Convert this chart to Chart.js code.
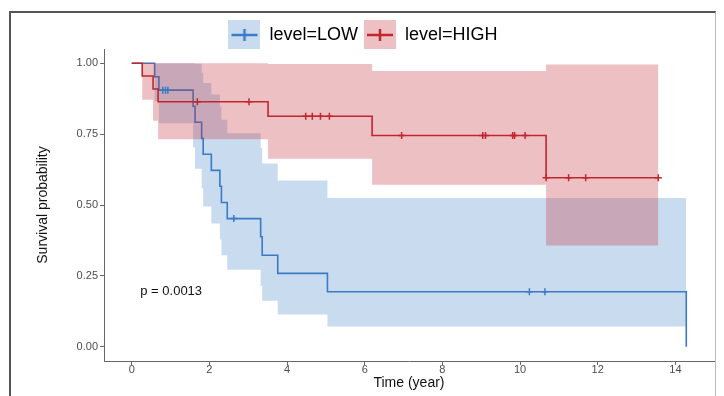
<!DOCTYPE html>
<html>
<head>
<meta charset="utf-8">
<script src="https://cdn.jsdelivr.net/npm/chart.js@4.4.1/dist/chart.umd.min.js"></script>
<style>
  html, body { margin: 0; padding: 0; background: #fff; }
  #wrap { position: relative; width: 724px; height: 396px; overflow: hidden; }
  #frame { position: absolute; left: 9px; top: 11px; width: 704px; height: 400px;
           border-left: 2px solid #555; border-top: 2px solid #555; border-right: 1px solid #bbb; }
  canvas { position: absolute; left: 0; top: 0; }
</style>
</head>
<body>
<div id="wrap"><div id="frame"></div><canvas id="km" width="724" height="396"></canvas></div>
<script>
// axis ticks
const xTicks = [0, 2, 4, 6, 8, 10, 12, 14];
const yTicks = [0, 0.25, 0.5, 0.75, 1];

// level=LOW : step times, survival and confidence band
const lowTime  = [0, 0.59, 0.70, 1.58, 1.63, 1.80, 1.84, 2.05, 2.27, 2.31, 2.46, 3.32, 3.36, 3.76, 5.04, 14.28];
const lowSurv  = [1, 0.952, 0.905, 0.848, 0.792, 0.735, 0.679, 0.622, 0.566, 0.509, 0.452, 0.388, 0.323, 0.259, 0.194, 0];
const lowUpper = [1, 1, 1, 1, 0.998, 0.966, 0.930, 0.890, 0.847, 0.801, 0.753, 0.701, 0.646, 0.586, 0.525, 0.525];
const lowLower = [1, 0.866, 0.788, 0.703, 0.628, 0.559, 0.495, 0.435, 0.378, 0.323, 0.272, 0.214, 0.162, 0.114, 0.072, 0.072];
const lowCensorTime = [0.80, 0.87, 0.93, 2.63, 10.24, 10.64];
const lowCensorSurv = [0.905, 0.905, 0.905, 0.452, 0.194, 0.194];

// level=HIGH
const highTime  = [0, 0.27, 0.55, 0.68, 3.51, 6.19, 10.67, 13.56];
const highSurv  = [1, 0.955, 0.909, 0.864, 0.813, 0.745, 0.596, 0.596];
const highUpper = [1, 1, 1, 1, 0.997, 0.972, 0.995, 0.995];
const highLower = [1, 0.871, 0.797, 0.732, 0.663, 0.571, 0.357, 0.357];
const highCensorTime = [1.69, 3.02, 4.48, 4.65, 4.86, 5.09, 6.95, 9.04, 9.11, 9.81, 9.86, 10.13, 10.67, 11.25, 11.69, 13.56];
const highCensorSurv = [0.864, 0.864, 0.813, 0.813, 0.813, 0.813, 0.745, 0.745, 0.745, 0.745, 0.745, 0.745, 0.596, 0.596, 0.596, 0.596];

const pValue = 'p = 0.0013';
const pvalX = 0.22;
const pvalY = 0.195;

const xMin = -0.714, xMax = 14.994;
const yMin = -0.05, yMax = 1.05;

const family = '"Liberation Sans", Arial, sans-serif';
const blueLine = '#3a7bc6';
const blueFill = 'rgba(70,130,195,0.29)';
const redLine = '#c1262c';
const redFill = 'rgba(195,45,60,0.3)';

Chart.defaults.font.family = family;

function pts(xs, ys) {
  return xs.map((x, i) => ({ x, y: ys[i] }));
}

function legendIcon(fill, stroke) {
  const c = document.createElement('canvas');
  c.width = 32;
  c.height = 32;
  const g = c.getContext('2d');
  g.fillStyle = fill;
  g.fillRect(0, 0, 32, 32);
  g.strokeStyle = stroke;
  g.lineWidth = 2.5;
  g.beginPath();
  g.moveTo(3, 16); g.lineTo(29, 16);
  g.moveTo(16, 10); g.lineTo(16, 22);
  g.stroke();
  return c;
}

function band(data, fill, color, order) {
  return { label: '', data, stepped: 'before', borderWidth: 0, pointRadius: 0,
           fill, backgroundColor: color, order };
}

function stepLine(label, data, color, order) {
  return { label, data, stepped: 'before', borderColor: color, borderWidth: 1.6,
           pointRadius: 0, fill: false, order };
}

function censor(data, color, order) {
  return { label: '', data, showLine: false, pointStyle: 'cross', pointRadius: 3.5,
           pointBorderWidth: 1.5, pointBorderColor: color, order };
}

// keep the legend tight above the plot
const legendSize = {
  id: 'legendSize',
  beforeLayout(chart) {
    const lg = chart.legend;
    if (lg && !lg._sized) {
      const fit = lg.fit;
      lg.fit = function () { fit.call(this); this.height = 29; };
      lg._sized = true;
    }
  }
};

const pvalText = {
  id: 'pvalText',
  afterDatasetsDraw(chart) {
    const { ctx, scales: { x, y } } = chart;
    ctx.save();
    ctx.font = '13px ' + family;
    ctx.fillStyle = '#111';
    ctx.textBaseline = 'middle';
    ctx.fillText(pValue, x.getPixelForValue(pvalX), y.getPixelForValue(pvalY));
    ctx.restore();
  }
};

new Chart(document.getElementById('km'), {
  type: 'line',
  data: {
    datasets: [
      band(pts(lowTime, lowUpper), '+1', blueFill, 6),
      band(pts(lowTime, lowLower), false, 'transparent', 6),
      stepLine('level=LOW', pts(lowTime, lowSurv), blueLine, 5),
      band(pts(highTime, highUpper), '+1', redFill, 4),
      band(pts(highTime, highLower), false, 'transparent', 4),
      stepLine('level=HIGH', pts(highTime, highSurv), redLine, 3),
      censor(pts(lowCensorTime, lowCensorSurv), blueLine, 2),
      censor(pts(highCensorTime, highCensorSurv), redLine, 1)
    ]
  },
  options: {
    responsive: false,
    animation: false,
    devicePixelRatio: 1,
    layout: { padding: { top: 20, right: 10, left: 12, bottom: 0 } },
    plugins: {
      tooltip: { enabled: false },
      legend: {
        position: 'top',
        onClick: null,
        labels: {
          usePointStyle: true,
          pointStyleWidth: 32,
          padding: 6,
          color: '#111',
          font: { size: 18, family },
          generateLabels: () => [
            { text: 'level=LOW', pointStyle: legendIcon(blueFill, blueLine), lineWidth: 0,
              fillStyle: blueFill, strokeStyle: blueLine, hidden: false, datasetIndex: 2 },
            { text: 'level=HIGH', pointStyle: legendIcon(redFill, redLine), lineWidth: 0,
              fillStyle: redFill, strokeStyle: redLine, hidden: false, datasetIndex: 5 }
          ]
        }
      }
    },
    scales: {
      x: {
        type: 'linear',
        min: xMin,
        max: xMax,
        afterFit: s => { s.height = 35; },
        afterBuildTicks: s => { s.ticks = xTicks.map(v => ({ value: v })); },
        ticks: { color: '#4d4d4d', font: { size: 11 }, padding: -2, callback: v => String(v) },
        grid: { display: true, drawOnChartArea: false, tickLength: 4, color: '#666' },
        border: { color: '#666', width: 1 },
        title: { display: true, text: 'Time (year)', color: '#111', font: { size: 14 },
                 padding: { top: 0, bottom: 4 } }
      },
      y: {
        type: 'linear',
        min: yMin,
        max: yMax,
        afterFit: s => { s.width = 92; },
        afterBuildTicks: s => { s.ticks = yTicks.map(v => ({ value: v })); },
        ticks: { color: '#4d4d4d', font: { size: 11 }, padding: 2, callback: v => v.toFixed(2) },
        grid: { display: true, drawOnChartArea: false, tickLength: 4, color: '#666' },
        border: { color: '#666', width: 1 },
        title: { display: true, text: 'Survival probability', color: '#111', font: { size: 14 },
                 padding: { top: 23, bottom: 0 } }
      }
    }
  },
  plugins: [legendSize, pvalText]
});
</script>
</body>
</html>
